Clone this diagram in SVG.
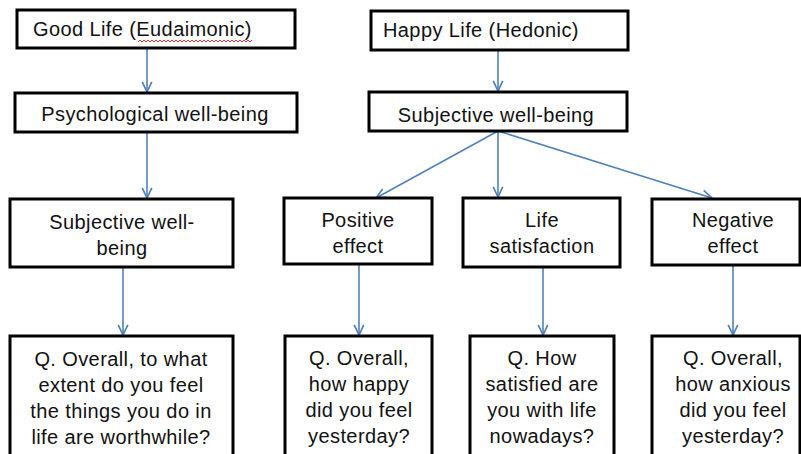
<svg xmlns="http://www.w3.org/2000/svg" width="801" height="454" viewBox="0 0 801 454">
<style>
.box{fill:#fff;stroke:#000;stroke-width:3}
.t{font-family:"Liberation Sans",Arial,sans-serif;font-size:20px;fill:#111;letter-spacing:0.4px}
.c{text-anchor:middle}
.con{stroke:#4f81bd;stroke-width:1.6;fill:none}
</style>
<defs>
<marker id="arr" viewBox="0 0 10 10" refX="9.5" refY="5" markerWidth="12" markerHeight="12" markerUnits="userSpaceOnUse" orient="auto">
<path d="M1,1 L9.5,5 L1,9" fill="none" stroke="#4f81bd" stroke-width="1.4"/>
</marker>
</defs>
<rect width="801" height="454" fill="#fff"/>
<g id="connectors">
<line class="con" x1="147" y1="48" x2="147" y2="92" marker-end="url(#arr)"/>
<line class="con" x1="147" y1="132" x2="147" y2="198" marker-end="url(#arr)"/>
<line class="con" x1="123" y1="267" x2="123" y2="335" marker-end="url(#arr)"/>
<line class="con" x1="498" y1="50" x2="498" y2="91" marker-end="url(#arr)"/>
<line class="con" x1="498" y1="131" x2="376" y2="198" marker-end="url(#arr)"/>
<line class="con" x1="498" y1="131" x2="498" y2="197" marker-end="url(#arr)"/>
<line class="con" x1="498" y1="131" x2="712" y2="198" marker-end="url(#arr)"/>
<line class="con" x1="359" y1="264" x2="359" y2="335" marker-end="url(#arr)"/>
<line class="con" x1="543" y1="267" x2="543" y2="335" marker-end="url(#arr)"/>
<line class="con" x1="733" y1="265" x2="733" y2="335" marker-end="url(#arr)"/>
</g>
<g id="good-life">
<rect class="box" x="17" y="10" width="278" height="38"/>
<text class="t" x="33" y="36">Good Life (Eudaimonic)</text>
<path d="M138,42 l2,-2 l2,2 l2,-2 l2,2 l2,-2 l2,2 l2,-2 l2,2 l2,-2 l2,2 l2,-2 l2,2 l2,-2 l2,2 l2,-2 l2,2 l2,-2 l2,2 l2,-2 l2,2 l2,-2 l2,2 l2,-2 l2,2 l2,-2 l2,2 l2,-2 l2,2 l2,-2 l2,2 l2,-2 l2,2 l2,-2 l2,2 l2,-2 l2,2 l2,-2 l2,2 l2,-2 l2,2 l2,-2 l2,2 l2,-2 l2,2 l2,-2 l2,2 l2,-2 l2,2 l2,-2 l2,2 l2,-2 l2,2 l2,-2 l2,2 l2,-2 l2,2 l2,-2" fill="none" stroke="#e03030" stroke-width="1"/>
</g>
<g id="psych-wb">
<rect class="box" x="15" y="93" width="282" height="39"/>
<text class="t c" x="155" y="121">Psychological well-being</text>
</g>
<g id="happy-life">
<rect class="box" x="371" y="11" width="257" height="39"/>
<text class="t" x="383" y="37">Happy Life (Hedonic)</text>
</g>
<g id="subj-wb-top">
<rect class="box" x="369" y="92" width="258" height="39"/>
<text class="t c" x="496" y="122">Subjective well-being</text>
</g>
<g id="subj-wb-left">
<rect class="box" x="10" y="199" width="223" height="68"/>
<text class="t c" x="122" y="229">Subjective well-</text>
<text class="t c" x="122" y="255">being</text>
</g>
<g id="q-worthwhile">
<rect class="box" x="10" y="336" width="223" height="130"/>
<text class="t c" x="121" y="366">Q. Overall, to what</text>
<text class="t c" x="121" y="392">extent do you feel</text>
<text class="t c" x="121" y="418">the things you do in</text>
<text class="t c" x="121" y="444">life are worthwhile?</text>
</g>
<g id="positive">
<rect class="box" x="284" y="198" width="148" height="66"/>
<text class="t c" x="358" y="227">Positive</text>
<text class="t c" x="358" y="253">effect</text>
</g>
<g id="q-happy">
<rect class="box" x="285" y="336" width="147" height="130"/>
<text class="t c" x="359" y="365">Q. Overall,</text>
<text class="t c" x="359" y="391">how happy</text>
<text class="t c" x="359" y="417">did you feel</text>
<text class="t c" x="359" y="443">yesterday?</text>
</g>
<g id="life-sat">
<rect class="box" x="463" y="198" width="157" height="69"/>
<text class="t c" x="542" y="227">Life</text>
<text class="t c" x="542" y="253">satisfaction</text>
</g>
<g id="q-satisfied">
<rect class="box" x="470" y="336" width="144" height="130"/>
<text class="t c" x="542" y="365">Q. How</text>
<text class="t c" x="542" y="391">satisfied are</text>
<text class="t c" x="542" y="417">you with life</text>
<text class="t c" x="542" y="443">nowadays?</text>
</g>
<g id="negative">
<rect class="box" x="652" y="199" width="148" height="66"/>
<text class="t c" x="733" y="227">Negative</text>
<text class="t c" x="733" y="253">effect</text>
</g>
<g id="q-anxious">
<rect class="box" x="652" y="336" width="148" height="130"/>
<text class="t c" x="733" y="365">Q. Overall,</text>
<text class="t c" x="733" y="391">how anxious</text>
<text class="t c" x="733" y="417">did you feel</text>
<text class="t c" x="733" y="443">yesterday?</text>
</g>
</svg>
